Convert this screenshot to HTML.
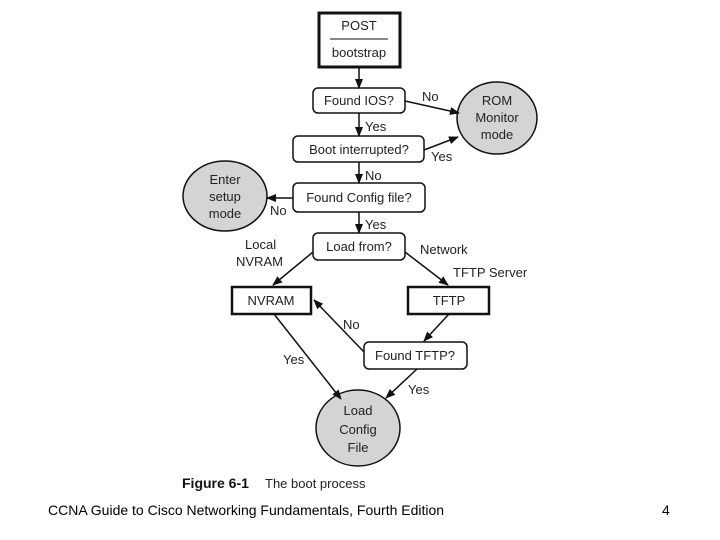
<!DOCTYPE html>
<html><head><style>
body{margin:0;background:#fff;width:720px;height:540px;overflow:hidden}
</style></head><body>
<svg width="720" height="540" xmlns="http://www.w3.org/2000/svg" style="position:absolute;left:0;top:0">
<defs><marker id="a" markerWidth="10" markerHeight="8" refX="9" refY="4" orient="auto" markerUnits="userSpaceOnUse"><path d="M0,0 L10,4 L0,8 z" fill="#111"/></marker></defs>
<g font-family="Liberation Sans, sans-serif" font-size="13" fill="#222">
<rect x="319" y="13" width="81" height="54" fill="#fff" stroke="#111" stroke-width="3"/>
<line x1="330" y1="39" x2="388" y2="39" stroke="#111" stroke-width="1"/>
<text x="359" y="30" text-anchor="middle">POST</text>
<text x="359" y="57" text-anchor="middle">bootstrap</text>
<rect x="313" y="88" width="92" height="25" rx="5" fill="#fff" stroke="#111" stroke-width="1.5"/>
<text x="359" y="105" text-anchor="middle">Found IOS?</text>
<ellipse cx="497" cy="118" rx="40" ry="36" fill="#d4d4d4" stroke="#111" stroke-width="1.5"/>
<text x="497" y="105" text-anchor="middle">ROM</text>
<text x="497" y="122" text-anchor="middle">Monitor</text>
<text x="497" y="139" text-anchor="middle">mode</text>
<rect x="293" y="136" width="131" height="26" rx="5" fill="#fff" stroke="#111" stroke-width="1.5"/>
<text x="359" y="154" text-anchor="middle">Boot interrupted?</text>
<ellipse cx="225" cy="196" rx="42" ry="35" fill="#d4d4d4" stroke="#111" stroke-width="1.5"/>
<text x="225" y="184" text-anchor="middle">Enter</text>
<text x="225" y="201" text-anchor="middle">setup</text>
<text x="225" y="218" text-anchor="middle">mode</text>
<rect x="293" y="183" width="132" height="29" rx="5" fill="#fff" stroke="#111" stroke-width="1.5"/>
<text x="359" y="202" text-anchor="middle">Found Config file?</text>
<rect x="313" y="233" width="92" height="27" rx="5" fill="#fff" stroke="#111" stroke-width="1.5"/>
<text x="359" y="251" text-anchor="middle">Load from?</text>
<rect x="232" y="287" width="79" height="27" fill="#fff" stroke="#111" stroke-width="2.5"/>
<text x="271" y="305" text-anchor="middle">NVRAM</text>
<rect x="408" y="287" width="81" height="27" fill="#fff" stroke="#111" stroke-width="2.5"/>
<text x="449" y="305" text-anchor="middle">TFTP</text>
<rect x="364" y="342" width="103" height="27" rx="5" fill="#fff" stroke="#111" stroke-width="1.5"/>
<text x="415" y="360" text-anchor="middle">Found TFTP?</text>
<ellipse cx="358" cy="428" rx="42" ry="38" fill="#d4d4d4" stroke="#111" stroke-width="1.5"/>
<text x="358" y="415" text-anchor="middle">Load</text>
<text x="358" y="434" text-anchor="middle">Config</text>
<text x="358" y="452" text-anchor="middle">File</text>
<g stroke="#111" stroke-width="1.5" marker-end="url(#a)">
<line x1="359" y1="67" x2="359" y2="88"/>
<line x1="359" y1="113" x2="359" y2="136"/>
<line x1="359" y1="162" x2="359" y2="183"/>
<line x1="359" y1="212" x2="359" y2="233"/>
<line x1="405" y1="101" x2="459" y2="113"/>
<line x1="424" y1="150" x2="458" y2="137"/>
<line x1="293" y1="198" x2="267" y2="198"/>
<line x1="313" y1="252" x2="273" y2="285"/>
<line x1="405" y1="252" x2="448" y2="285"/>
<line x1="449" y1="314" x2="424" y2="341"/>
<line x1="364" y1="352" x2="314" y2="300"/>
<line x1="274" y1="314" x2="341" y2="399"/>
<line x1="417" y1="369" x2="386" y2="398"/>
</g>
<text x="365" y="131">Yes</text>
<text x="365" y="180">No</text>
<text x="365" y="229">Yes</text>
<text x="422" y="101">No</text>
<text x="431" y="161">Yes</text>
<text x="270" y="215">No</text>
<text x="245" y="249">Local</text>
<text x="236" y="266">NVRAM</text>
<text x="420" y="254">Network</text>
<text x="453" y="277">TFTP Server</text>
<text x="343" y="329">No</text>
<text x="283" y="364">Yes</text>
<text x="408" y="394">Yes</text>
<text x="182" y="488" font-weight="bold" font-size="14" fill="#111">Figure 6-1</text>
<text x="265" y="488" font-size="13">The boot process</text>
</g>
<text x="48" y="515" font-family="Liberation Sans, sans-serif" font-size="14" fill="#000">CCNA Guide to Cisco Networking Fundamentals, Fourth Edition</text>
<text x="662" y="515" font-family="Liberation Sans, sans-serif" font-size="14" fill="#000">4</text>
</svg>
</body></html>
